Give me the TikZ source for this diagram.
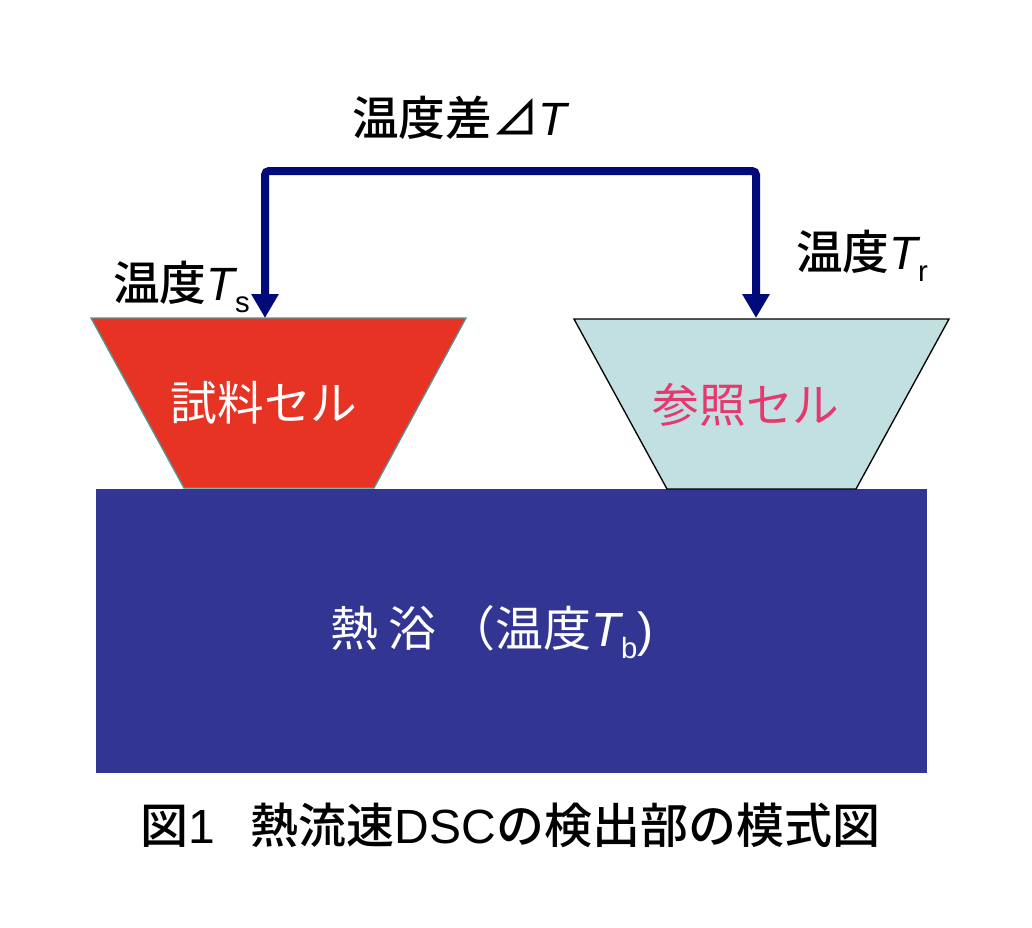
\documentclass[tikz,border=0pt]{standalone}
\usepackage{fontspec}
\setmainfont{Liberation Sans}
\newfontfamily\cjk{Noto Sans CJK JP}
\newfontfamily\cjkm{Noto Sans CJK JP}[UprightFont={* Medium}]
\usetikzlibrary{arrows.meta}
\definecolor{bathblue}{RGB}{51,53,146}
\definecolor{cellred}{RGB}{230,51,35}
\definecolor{cellblue}{RGB}{194,224,226}
\definecolor{tealline}{RGB}{80,150,150}
\definecolor{pinktext}{RGB}{230,56,110}
\definecolor{navyline}{RGB}{0,10,120}
\newcommand\mysub[1]{\raisebox{-9pt}{\fontsize{22}{22}\selectfont #1}}
\tikzset{
  lbl/.style={inner sep=0pt, font=\fontsize{35}{40}\selectfont},
  conn/.style={draw=navyline, line width=6pt, rounded corners=3pt,
    {Triangle[width=19.5pt,length=18pt]}-{Triangle[width=19.5pt,length=18pt]}},
  scell/.style={fill=cellred, draw=tealline, line width=1pt},
  rcell/.style={fill=cellblue, draw=black, line width=1pt},
  bathbox/.style={fill=bathblue, draw=none},
}
\begin{document}
\begin{tikzpicture}[x=0.75pt,y=-0.75pt]
\useasboundingbox (0,0) rectangle (1032,928);
\fill[white] (0,0) rectangle (1032,928);
% heat bath
\path[bathbox] (96,489) rectangle (927,773);
% cells
\draw[scell] (91,318) -- (466,318) -- (374,488) -- (184,488) -- cycle;
\draw[rcell] (574,319) -- (949,319) -- (856,489) -- (667,489) -- cycle;
% connector
\coordinate (sTop) at (265,318);
\coordinate (rTop) at (756,318);
\coordinate (jL) at (265,171);
\coordinate (jR) at (756,171);
\draw[conn] (sTop) -- (jL) -- (jR) -- (rTop);
% labels
\node[lbl, anchor=base west] (dT) at (352,135) {{\cjkm 温度差⊿}\itshape T};
\node[lbl, anchor=base west] (Ts) at (113,300) {{\cjkm 温度}\itshape T\upshape\mysub{s}};
\node[lbl, anchor=base west] (Tr) at (796,269) {{\cjkm 温度}\itshape T\upshape\mysub{r}};
\node[lbl, text=white] (sc) at (264,403) {\cjk 試料セル};
\node[lbl, text=pinktext] (rc) at (746,405) {\cjk 参照セル};
\node[lbl, text=white, anchor=base west, font=\fontsize{36}{40}\selectfont] (bt) at (330,646) {{\cjk 熱 浴 （温度}\itshape T\upshape\mysub{b})};
\node[lbl, anchor=base west, font=\fontsize{36}{40}\selectfont] (cap) at (140,843) {{\cjkm 図}1\hspace{0.75em}{\cjkm 熱流速}DSC{\cjkm の検出部の模式図}};
\end{tikzpicture}
\end{document}
